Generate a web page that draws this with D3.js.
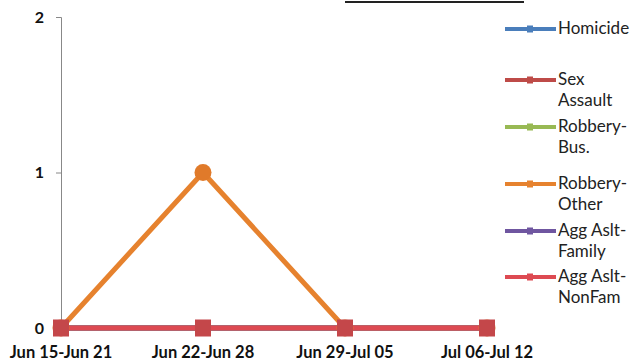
<!DOCTYPE html>
<html>
<head>
<meta charset="utf-8">
<script src="https://d3js.org/d3.v7.min.js"></script>
<style>
body { margin: 0; background: #fff; }
svg { display: block; font-family: Lato, "Open Sans", sans-serif; }
</style>
</head>
<body>
<svg width="633" height="361"></svg>
<script>
var weeks = ["Jun 15-Jun 21", "Jun 22-Jun 28", "Jun 29-Jul 05", "Jul 06-Jul 12"]
var y_ticks = [0, 1, 2]

var homicide = [0, 0, 0, 0]
var sex_assault = [0, 0, 0, 0]
var robbery_bus = [0, 0, 0, 0]
var robbery_other = [0, 1, 0, 0]
var agg_family = [0, 0, 0, 0]
var agg_nonfam = [0, 0, 0, 0]

var series = [
  {name: ["Homicide"], values: homicide, color: "#4a7ebb"},
  {name: ["Sex", "Assault"], values: sex_assault, color: "#be4b48"},
  {name: ["Robbery-", "Bus."], values: robbery_bus, color: "#98b954"},
  {name: ["Robbery-", "Other"], values: robbery_other, color: "#e6822e"},
  {name: ["Agg Aslt-", "Family"], values: agg_family, color: "#6f56a0"},
  {name: ["Agg Aslt-", "NonFam"], values: agg_nonfam, color: "#dd4a52"}
]

var svg = d3.select("svg")

var x = d3.scalePoint().domain(weeks).range([61, 487])
var y = d3.scaleLinear().domain([0, 2]).range([328, 17])

// title underline (title itself is cut off)
svg.append("line")
  .attr("x1", 345).attr("x2", 524)
  .attr("y1", 2).attr("y2", 2)
  .attr("stroke", "#222").attr("stroke-width", 2)

// y axis
var yAxis = svg.append("g")
  .attr("transform", "translate(61,0)")
  .call(d3.axisLeft(y).tickValues(y_ticks).tickFormat(d3.format("d")).tickSizeOuter(0).tickSize(5).tickPadding(12))
yAxis.select(".domain").attr("stroke", "#888")
yAxis.selectAll(".tick line").attr("stroke", "#888")
yAxis.selectAll("text")
  .attr("font-size", 16).attr("font-weight", "bold").attr("fill", "#111")
  .attr("font-family", "Lato, sans-serif")

// x labels
svg.append("g")
  .selectAll("text")
  .data(weeks)
  .enter()
  .append("text")
  .attr("x", function(d){ return x(d) })
  .attr("y", 358)
  .attr("text-anchor", "middle")
  .attr("font-size", 16.5)
  .attr("font-weight", "bold")
  .attr("fill", "#111")
  .text(function(d){ return d })

var line = d3.line()
  .x(function(d, i){ return x(weeks[i]) })
  .y(function(d){ return y(d) })

svg.append("g")
  .selectAll("path")
  .data(series)
  .enter()
  .append("path")
  .attr("fill", "none")
  .attr("stroke", function(s){ return s.color })
  .attr("stroke-width", 5)
  .attr("stroke-linejoin", "round")
  .attr("d", function(s){ return line(s.values) })

// markers: orange circle then sex assault squares on top
var mk = svg.append("g")
mk.selectAll("circle")
  .data(robbery_other)
  .enter()
  .append("circle")
  .attr("cx", function(d, i){ return x(weeks[i]) })
  .attr("cy", function(d){ return y(d) })
  .attr("r", 8.5)
  .attr("fill", "#e07a2a")

mk.selectAll("rect")
  .data(sex_assault)
  .enter()
  .append("rect")
  .attr("x", function(d, i){ return x(weeks[i]) - 8 })
  .attr("y", function(d){ return y(d) - 8.5 })
  .attr("width", 16)
  .attr("height", 17)
  .attr("fill", "#c4474a")

// legend
var legend_y = [29, 80, 127, 184, 231, 277]
var lg = svg.append("g")
  .selectAll("g")
  .data(series)
  .enter()
  .append("g")
  .attr("transform", function(s, i){ return "translate(0," + legend_y[i] + ")" })

lg.append("line")
  .attr("x1", 505).attr("x2", 556)
  .attr("y1", 0).attr("y2", 0)
  .attr("stroke", function(s){ return s.color })
  .attr("stroke-width", 4)

lg.append("rect")
  .attr("x", 527).attr("y", -3.5)
  .attr("width", 6).attr("height", 7)
  .attr("fill", function(s){ return s.color })

lg.each(function(s){
  var t = d3.select(this).append("text")
    .attr("x", 558)
    .attr("y", 5)
    .attr("font-size", 17)
    .attr("fill", "#222")
  s.name.forEach(function(n, k){
    t.append("tspan").attr("x", 558).attr("dy", k == 0 ? 0 : 21).text(n)
  })
})
</script>
</body>
</html>
